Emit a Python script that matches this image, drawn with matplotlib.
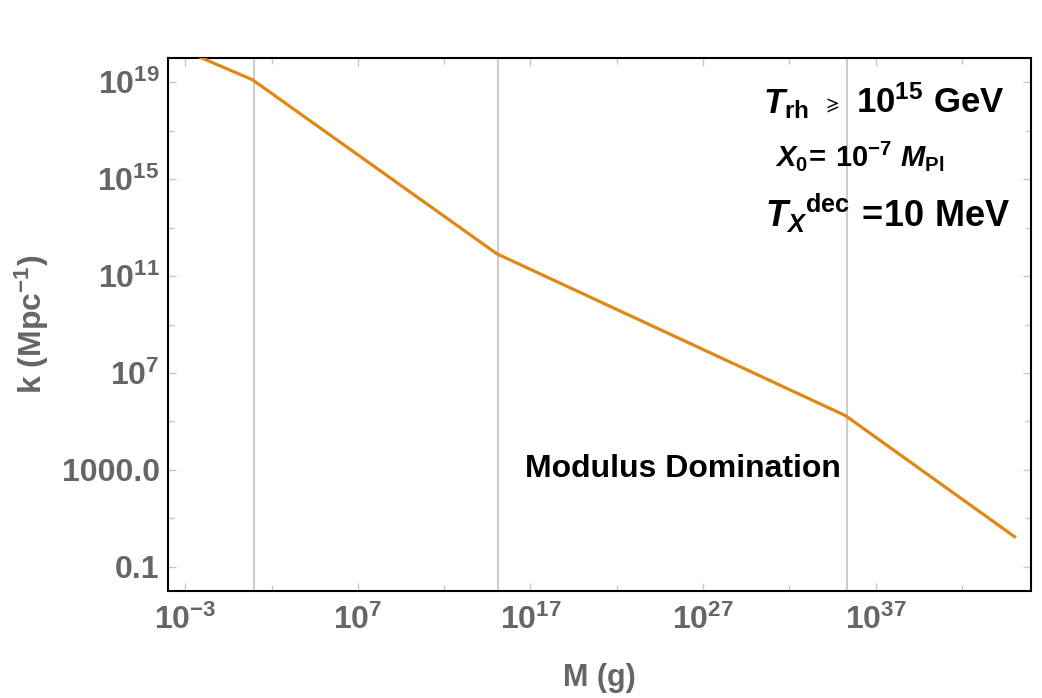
import numpy as np
import matplotlib
matplotlib.use('Agg')
import matplotlib.pyplot as plt
from matplotlib.ticker import FixedLocator, FuncFormatter

# ========== data ==========
mass_g = [1e-4, 10**0.9, 10**15.05, 10**35.25, 10**45.05]
k_mpc = [10**20.6, 10**19.1, 10**11.92, 10**5.24, 10**0.24]
transition_M = [10**1.0, 10**15.1, 10**35.35]

x_major = [1e-3, 1e7, 1e17, 1e27, 1e37]
x_minor = [1e2, 1e12, 1e22, 1e32, 1e42]
y_major = [1e-1, 1e3, 1e7, 1e11, 1e15, 1e19]
y_minor = [1e1, 1e5, 1e9, 1e13, 1e17]

# ========== style ==========
plt.rcParams['font.family'] = ['Liberation Sans', 'DejaVu Sans']
plt.rcParams['font.weight'] = 'bold'
plt.rcParams['mathtext.fontset'] = 'custom'
plt.rcParams['mathtext.rm'] = 'Liberation Sans:bold'
plt.rcParams['mathtext.bf'] = 'Liberation Sans:bold'
plt.rcParams['mathtext.it'] = 'Liberation Sans:italic:bold'
plt.rcParams['mathtext.fallback'] = 'stixsans'

GRAY = '#666666'
ORANGE = '#DF8816'
TICKC = '#c8c8c8'

fig = plt.figure(figsize=(10.42, 6.98), dpi=100)
ax = fig.add_axes([168 / 1042, 1 - 591 / 698, (1031 - 168) / 1042, (591 - 58) / 698])

for xv in transition_M:
    ax.axvline(xv, color='#cccccc', lw=1.5, zorder=1)

ax.plot(mass_g, k_mpc, color=ORANGE, lw=2.3, zorder=3)

ax.set_xscale('log')
ax.set_yscale('log')
ax.set_xlim(1e-4, 1e46)
ax.set_ylim(1e-2, 1e20)


def pow_label(v, pos=None):
    if np.isclose(v, 0.1):
        return '0.1'
    if np.isclose(v, 1000):
        return '1000.0'
    e = int(round(np.log10(v)))
    return r'$10^{%d}$' % e


ax.xaxis.set_major_locator(FixedLocator(x_major))
ax.xaxis.set_minor_locator(FixedLocator(x_minor))
ax.yaxis.set_major_locator(FixedLocator(y_major))
ax.yaxis.set_minor_locator(FixedLocator(y_minor))
ax.xaxis.set_major_formatter(FuncFormatter(pow_label))
ax.yaxis.set_major_formatter(FuncFormatter(pow_label))
ax.xaxis.set_minor_formatter(FuncFormatter(lambda v, p: ''))
ax.yaxis.set_minor_formatter(FuncFormatter(lambda v, p: ''))

ax.tick_params(which='both', direction='in', top=True, right=True, color=TICKC, width=1.0)
ax.tick_params(which='major', length=6, labelsize=23, labelcolor=GRAY)
ax.tick_params(axis='x', which='major', pad=10)
ax.tick_params(axis='y', which='major', pad=6)
ax.tick_params(which='minor', length=4)

for sp in ax.spines.values():
    sp.set_color('black')
    sp.set_linewidth(1.5)

ax.set_xlabel(r'M (g)', fontsize=22, color=GRAY, fontweight='bold')
ax.xaxis.set_label_coords(0.5, -0.135)
ax.set_ylabel(r'k (Mpc$^{-1}$)', fontsize=23, color=GRAY, fontweight='bold')
ax.yaxis.set_label_coords(-0.136, 0.5)

# annotations
fig.text(763 / 1042, 1 - 113 / 698, r'$T_{\mathrm{rh}}$',
         fontsize=25, color='black', ha='left', va='baseline')
fig.text(822 / 1042, 1 - 110 / 698, r'$\geqslant$',
         fontsize=13, color='black', ha='left', va='baseline')
fig.text(1005 / 1042, 1 - 113 / 698, r'$10^{15}\ \mathrm{GeV}$',
         fontsize=25, color='black', ha='right', va='baseline')
fig.text(775 / 1042, 1 - 166 / 698, r'$X_0\!=\!\ 10^{-7}\ M_{\mathrm{Pl}}$',
         fontsize=21, color='black', ha='left', va='baseline')
fig.text(765 / 1042, 1 - 227 / 698, r'$T_X{}^{\mathrm{dec}}\,=\!10\ \mathrm{MeV}$',
         fontsize=26, color='black', ha='left', va='baseline')
fig.text(525 / 1042, 1 - 477 / 698, 'Modulus Domination',
         fontsize=23, color='black', ha='left', va='baseline', fontweight='bold')

fig.savefig('out.png', dpi=100)
